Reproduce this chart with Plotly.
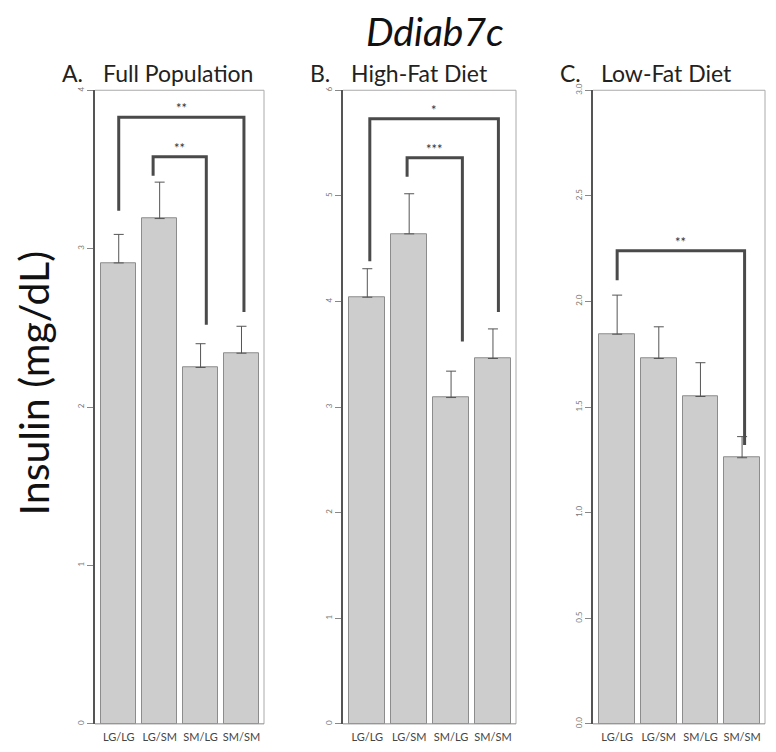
import plotly.graph_objects as go

W, H = 776, 752

genotypes = ["LG/LG", "LG/SM", "SM/LG", "SM/SM"]

# Mean insulin and upper standard error for each panel
full_mean = [2.91, 3.19, 2.25, 2.34]
full_err = [0.18, 0.23, 0.15, 0.17]
hfd_mean = [4.04, 4.64, 3.09, 3.46]
hfd_err = [0.27, 0.38, 0.25, 0.28]
lfd_mean = [1.845, 1.73, 1.55, 1.26]
lfd_err = [0.185, 0.15, 0.16, 0.10]

panel_letters = ["A.", "B.", "C."]
panel_names = ["Full Population", "High-Fat Diet", "Low-Fat Diet"]
y_max = [4, 6, 3]
y_ticks = [[0, 1, 2, 3, 4], [0, 1, 2, 3, 4, 5, 6], [0.0, 0.5, 1.0, 1.5, 2.0, 2.5, 3.0]]
y_ticktext = [["0", "1", "2", "3", "4"], ["0", "1", "2", "3", "4", "5", "6"],
              ["0.0", "0.5", "1.0", "1.5", "2.0", "2.5", "3.0"]]

# Significance brackets: (panel, x left, x right, left foot, right foot, top, label)
brackets = [
    (0, 0.00, 3.06, 3.24, 2.60, 3.83, "**"),
    (0, 0.84, 2.14, 3.46, 2.52, 3.58, "**"),
    (1, 0.06, 3.13, 4.38, 3.90, 5.73, "*"),
    (1, 0.95, 2.27, 5.18, 3.62, 5.36, "***"),
    (2, 0.00, 3.06, 2.10, 1.32, 2.24, "**"),
]

# Panel placement in pixels (left, right), shared top/bottom
panel_px = [(95, 264), (343, 516), (593, 765)]
top_px, bot_px = 84.5, 727.5

means = [full_mean, hfd_mean, lfd_mean]
errs = [full_err, hfd_err, lfd_err]

FONT = "Lato"
fig = go.Figure()

for i in range(3):
    xa = "x" if i == 0 else f"x{i+1}"
    ya = "y" if i == 0 else f"y{i+1}"
    fig.add_trace(go.Bar(
        x=list(range(4)), y=means[i], xaxis=xa, yaxis=ya,
        width=0.86,
        marker=dict(color="#cdcdcd", line=dict(color="#8c8c8c", width=1)),
        error_y=dict(type="data", symmetric=False, array=errs[i],
                     arrayminus=[0] * 4, color="#555555", thickness=1, width=5),
        showlegend=False, hoverinfo="skip",
    ))

layout = dict(
    width=W, height=H, margin=dict(l=0, r=0, t=0, b=0),
    paper_bgcolor="white", plot_bgcolor="white",
    bargap=0, showlegend=False,
)

shapes = []
annotations = []
for i in range(3):
    l, r = panel_px[i]
    sfx = "" if i == 0 else str(i + 1)
    layout[f"xaxis{sfx}"] = dict(
        domain=[l / W, r / W], range=[-0.58, 3.55],
        tickmode="array", tickvals=list(range(4)), ticktext=genotypes,
        ticks="", tickangle=0, ticklabelstandoff=5,
        showgrid=False, zeroline=False, showline=False,
        tickfont=dict(family=FONT, size=11, color="#444444"),
        anchor=f"y{sfx}", fixedrange=True,
    )
    layout[f"yaxis{sfx}"] = dict(
        domain=[1 - bot_px / H, 1 - top_px / H], range=[0, y_max[i]],
        tickmode="array", tickvals=y_ticks[i], ticktext=y_ticktext[i],
        ticks="outside", ticklen=6, tickcolor="#888888", tickwidth=1,
        tickangle=-90, tickfont=dict(family=FONT, size=8, color="#777777"),
        showgrid=False, zeroline=False,
        showline=True, linecolor="#555555", linewidth=1.5,
        anchor=f"x{sfx}", fixedrange=True,
    )
    xr = f"x{sfx}"
    yr = f"y{sfx}"
    # frame: light box on top/right, baseline at zero
    shapes.append(dict(type="line", xref=f"{xr} domain", yref=f"{yr} domain",
                       x0=0, x1=1, y0=1, y1=1, line=dict(color="#aaaaaa", width=1)))
    shapes.append(dict(type="line", xref=f"{xr} domain", yref=f"{yr} domain",
                       x0=1, x1=1, y0=0, y1=1, line=dict(color="#aaaaaa", width=1)))
    shapes.append(dict(type="line", xref=f"{xr} domain", yref=f"{yr} domain",
                       x0=0, x1=1, y0=0, y1=0, line=dict(color="#888888", width=1)))
    # panel headings
    annotations.append(dict(text=panel_letters[i], xref="paper", yref="paper",
                            x=(l - 35) / W, y=1 - 67 / H, xanchor="left", yanchor="middle",
                            showarrow=False, font=dict(family=FONT, size=23, color="#222222")))
    annotations.append(dict(text=panel_names[i], xref="paper", yref="paper",
                            x=(l + 6) / W, y=1 - 67 / H, xanchor="left", yanchor="middle",
                            showarrow=False, font=dict(family=FONT, size=23, color="#222222")))

for (p, x0, x1, f0, f1, top, lab) in brackets:
    sfx = "" if p == 0 else str(p + 1)
    xr, yr = f"x{sfx}", f"y{sfx}"
    path = f"M {x0},{f0} L {x0},{top} L {x1},{top} L {x1},{f1}"
    shapes.append(dict(type="path", xref=xr, yref=yr, path=path,
                       line=dict(color="#4a4a4a", width=3)))
    annotations.append(dict(text=lab, xref=xr, yref=yr, x=(x0 + x1) / 2,
                            y=top, yanchor="middle", yshift=9, showarrow=False,
                            font=dict(family=FONT, size=13, color="#333333")))

annotations.append(dict(text="<i>Ddiab7c</i>", xref="paper", yref="paper",
                        x=435 / W, y=1 - 24 / H, xanchor="center", yanchor="middle",
                        showarrow=False, font=dict(family=FONT, size=39, color="#111111")))
annotations.append(dict(text="Insulin (mg/dL)", xref="paper", yref="paper",
                        x=33 / W, y=1 - 382 / H, xanchor="center", yanchor="middle",
                        textangle=-90, showarrow=False,
                        font=dict(family=FONT, size=41, color="#111111")))

layout["shapes"] = shapes
layout["annotations"] = annotations
fig.update_layout(**layout)
fig.write_html("out.html")
